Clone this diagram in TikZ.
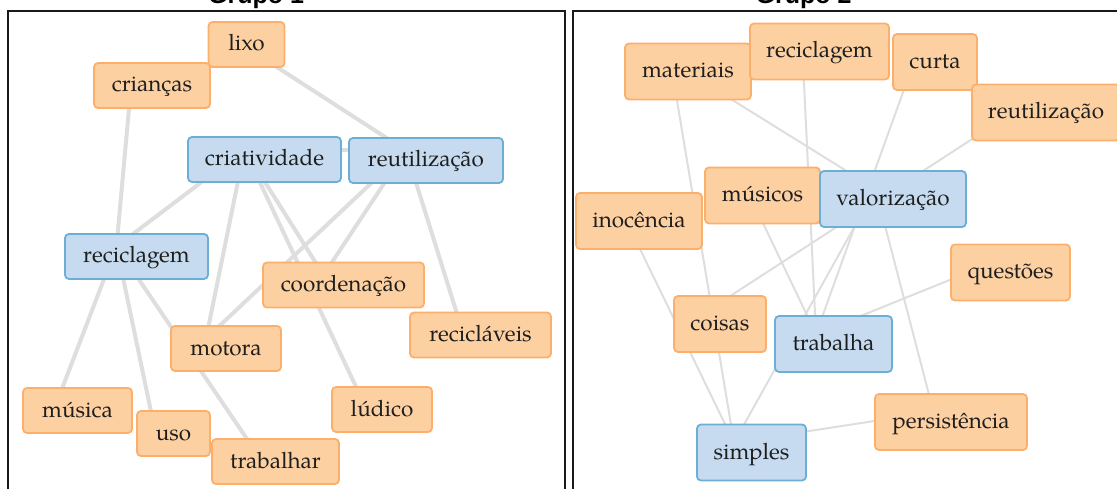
\documentclass[tikz,border=0pt]{standalone}
\usepackage{fontspec}
\setmainfont{TeX Gyre Pagella}
\newfontfamily\headfont{Liberation Sans}
\usetikzlibrary{backgrounds}

\definecolor{orgfill}{HTML}{FDD0A2}
\definecolor{orgline}{HTML}{FDAE6B}
\definecolor{blufill}{HTML}{C6DBEF}
\definecolor{bluline}{HTML}{6BAED6}
\definecolor{linkgray}{HTML}{DEDEDE}
\definecolor{inkdark}{HTML}{1E1E1E}

% edges join the layout points of two words (offset from the box centres)
\newcommand{\linkone}[2]{\draw[linkA] ([shift={(-20,-10)}]#1.center) -- ([shift={(-20,-10)}]#2.center);}
\newcommand{\linktwo}[2]{\draw[linkB] ([shift={(-17.5,-10)}]#1.center) -- ([shift={(-17.5,-10)}]#2.center);}

\begin{document}
\begin{tikzpicture}[x=1pt,y=-1pt,
  word/.style={rounded corners=4pt, line width=1.8pt, text=inkdark,
    font=\fontsize{22.5}{26}\selectfont, inner xsep=1pt, inner ysep=0pt,
    text height=17pt, text depth=4pt},
  org/.style={word, fill=orgfill, draw=orgline},
  blu/.style={word, fill=blufill, draw=bluline},
  pone/.style={minimum height=45pt},
  ptwo/.style={minimum height=56pt},
  linkA/.style={draw=linkgray, line width=4pt},
  linkB/.style={draw=linkgray, line width=2pt},
  frame/.style={draw=black!90, line width=2pt},
  head/.style={font=\headfont\bfseries\fontsize{25}{30}\selectfont, anchor=base, inner sep=0pt}
]
\useasboundingbox (0,0) rectangle (1117,489);
\clip (0,0) rectangle (1117,489);

% panel frames and headings
\draw[frame] (8,495) |- (565,11) -- (565,495);
\draw[frame] (573,495) |- (1125,11);
\node[head] (t1) at (256,4) {Grupo 1};
\node[head] (t2) at (803.5,4) {Grupo 2};

% ---- Grupo 1 ----
\node[org,pone,minimum width=76pt]  (a-lixo)   at (246.5,44.5) {lixo};
\node[org,pone,minimum width=116pt] (a-crian)  at (152,85.5)   {crianças};
\node[blu,pone,minimum width=153pt] (a-criat)  at (264.5,159.5) {criatividade};
\node[blu,pone,minimum width=154pt] (a-reut)   at (426,160.5)  {reutilização};
\node[blu,pone,minimum width=143pt] (a-recic)  at (136.5,256.5) {reciclagem};
\node[org,pone,minimum width=161pt] (a-coord)  at (343.5,285)  {coordenação};
\node[org,pone,minimum width=141pt] (a-recl)   at (480.5,335)  {recicláveis};
\node[org,pone,minimum width=110pt] (a-motora) at (226,348.5)  {motora};
\node[org,pone,minimum width=109pt] (a-musica) at (77.5,410.5) {música};
\node[org,pone,minimum width=100pt] (a-ludico) at (382,409.5)  {lúdico};
\node[org,pone,minimum width=73pt]  (a-uso)    at (173.5,433.5) {uso};
\node[org,pone,minimum width=127pt] (a-trab)   at (275.5,461.5) {trabalhar};

% ---- Grupo 2 ----
\node[org,ptwo,minimum width=126pt] (b-inoc)   at (639,221)    {inocência};
\node[org,ptwo,minimum width=126pt] (b-mat)    at (688,71.5)   {materiais};
\node[org,ptwo,minimum width=139pt] (b-recic)  at (819.5,51.5) {reciclagem};
\node[org,ptwo,minimum width=84pt]  (b-curta)  at (935,62)     {curta};
\node[org,ptwo,minimum width=148pt] (b-reut)   at (1046,112.5) {reutilização};
\node[org,ptwo,minimum width=115pt] (b-music)  at (762.5,195.5) {músicos};
\node[blu,ptwo,minimum width=146pt] (b-valor)  at (893,199)    {valorização};
\node[org,ptwo,minimum width=119pt] (b-quest)  at (1010.5,272.5) {questões};
\node[org,ptwo,minimum width=92pt]  (b-coisas) at (720,324)    {coisas};
\node[blu,ptwo,minimum width=117pt] (b-trab)   at (833.5,344)  {trabalha};
\node[org,ptwo,minimum width=152pt] (b-pers)   at (951,422)    {persistência};
\node[blu,ptwo,minimum width=109pt] (b-simp)   at (751.5,452.5) {simples};

% connectors behind the words
\begin{scope}[on background layer]
  \linkone{a-crian}{a-recic}
  \linkone{a-lixo}{a-reut}
  \linkone{a-criat}{a-reut}
  \linkone{a-criat}{a-recic}
  \linkone{a-criat}{a-motora}
  \linkone{a-criat}{a-coord}
  \linkone{a-criat}{a-ludico}
  \linkone{a-reut}{a-motora}
  \linkone{a-reut}{a-coord}
  \linkone{a-reut}{a-recl}
  \linkone{a-recic}{a-musica}
  \linkone{a-recic}{a-uso}
  \linkone{a-recic}{a-trab}

  \linktwo{b-mat}{b-simp}
  \linktwo{b-mat}{b-valor}
  \linktwo{b-recic}{b-trab}
  \linktwo{b-curta}{b-trab}
  \linktwo{b-reut}{b-coisas}
  \linktwo{b-inoc}{b-simp}
  \linktwo{b-music}{b-trab}
  \linktwo{b-valor}{b-simp}
  \linktwo{b-valor}{b-pers}
  \linktwo{b-trab}{b-quest}
  \linktwo{b-simp}{b-pers}
\end{scope}
\end{tikzpicture}
\end{document}
